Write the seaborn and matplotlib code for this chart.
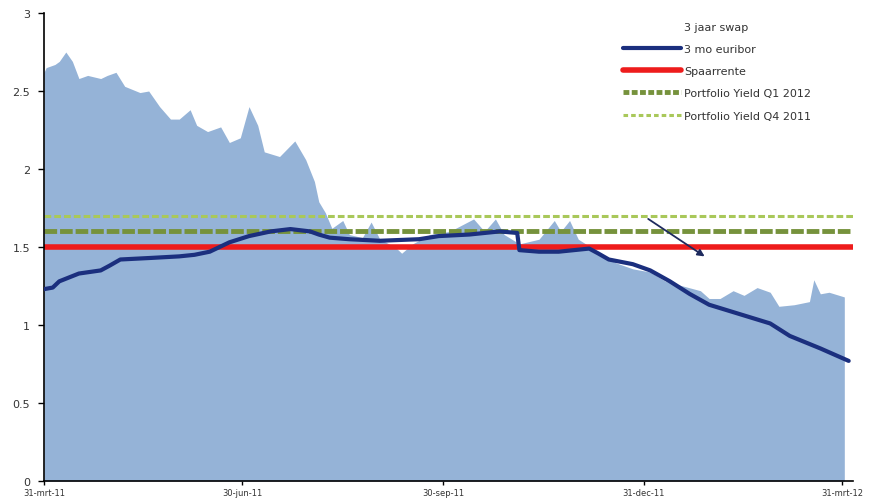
import pandas as pd
import numpy as np
import matplotlib
matplotlib.use("Agg")
import matplotlib.pyplot as plt
from matplotlib.patches import Patch
from matplotlib.lines import Line2D
import seaborn as sns

# 3 jaar swap (area)
swap_dates = [
    "2011-03-31", "2011-04-01", "2011-04-05", "2011-04-07", "2011-04-10", "2011-04-13",
    "2011-04-16", "2011-04-20", "2011-04-26", "2011-04-29", "2011-05-03", "2011-05-07",
    "2011-05-14", "2011-05-18", "2011-05-23", "2011-05-28", "2011-06-01", "2011-06-06",
    "2011-06-09", "2011-06-14", "2011-06-20", "2011-06-24", "2011-06-29", "2011-07-03",
    "2011-07-07", "2011-07-10", "2011-07-17", "2011-07-24", "2011-07-29", "2011-08-02",
    "2011-08-04", "2011-08-07", "2011-08-10", "2011-08-15", "2011-08-18", "2011-08-24",
    "2011-08-28", "2011-09-01", "2011-09-08", "2011-09-11", "2011-09-16", "2011-09-24",
    "2011-10-03", "2011-10-14", "2011-10-19", "2011-10-24", "2011-10-28", "2011-11-04",
    "2011-11-13", "2011-11-20", "2011-11-23", "2011-11-27", "2011-12-01", "2011-12-10",
    "2011-12-18", "2011-12-26", "2012-01-03", "2012-01-10", "2012-01-18", "2012-01-26",
    "2012-01-30", "2012-02-04", "2012-02-10", "2012-02-15", "2012-02-21", "2012-02-27",
    "2012-03-02", "2012-03-09", "2012-03-16", "2012-03-18", "2012-03-21", "2012-03-25",
    "2012-04-01",
]
swap_values = [
    2.62, 2.65, 2.67, 2.69, 2.75, 2.69,
    2.58, 2.60, 2.58, 2.60, 2.62, 2.53,
    2.49, 2.50, 2.40, 2.32, 2.32, 2.38,
    2.28, 2.24, 2.27, 2.17, 2.20, 2.40,
    2.28, 2.11, 2.08, 2.18, 2.06, 1.92,
    1.79, 1.72, 1.62, 1.67, 1.58, 1.56,
    1.66, 1.55, 1.50, 1.46, 1.52, 1.58,
    1.60, 1.68, 1.60, 1.68, 1.58, 1.52,
    1.55, 1.67, 1.60, 1.67, 1.55, 1.47,
    1.40, 1.36, 1.34, 1.28, 1.25, 1.22,
    1.17, 1.17, 1.22, 1.19, 1.24, 1.21,
    1.12, 1.13, 1.15, 1.29, 1.20, 1.21,
    1.18,
]

# 3 mo euribor
euribor_dates = [
    "2011-03-31", "2011-04-04", "2011-04-07", "2011-04-16", "2011-04-26", "2011-04-30",
    "2011-05-05", "2011-05-19", "2011-06-01", "2011-06-08", "2011-06-15", "2011-06-24",
    "2011-07-03", "2011-07-13", "2011-07-22", "2011-07-31", "2011-08-04", "2011-08-09",
    "2011-08-18", "2011-09-01", "2011-09-19", "2011-09-28", "2011-10-12", "2011-10-26",
    "2011-11-03", "2011-11-04", "2011-11-13", "2011-11-22", "2011-12-06", "2011-12-10",
    "2011-12-15", "2011-12-26", "2012-01-03", "2012-01-12", "2012-01-21", "2012-01-30",
    "2012-02-13", "2012-02-27", "2012-03-07", "2012-03-21", "2012-04-03",
]
euribor_values = [
    1.23, 1.24, 1.28, 1.33, 1.35, 1.38,
    1.42, 1.43, 1.44, 1.45, 1.47, 1.53,
    1.57, 1.60, 1.615, 1.60, 1.58, 1.56,
    1.55, 1.54, 1.55, 1.57, 1.58, 1.60,
    1.59, 1.48, 1.47, 1.47, 1.49, 1.46,
    1.42, 1.39, 1.35, 1.28, 1.20, 1.13,
    1.07, 1.01, 0.93, 0.85, 0.77,
]

# flat levels
spaarrente = 1.5
yield_q1_2012 = 1.6
yield_q4_2011 = 1.7

labels = ["3 jaar swap", "3 mo euribor", "Spaarrente",
          "Portfolio Yield Q1 2012", "Portfolio Yield Q4 2011"]

x_tick_dates = ["2011-03-31", "2011-06-30", "2011-09-30", "2011-12-31", "2012-03-31"]
x_tick_labels = ["31-mrt-11", "30-jun-11", "30-sep-11", "31-dec-11", "31-mrt-12"]
y_ticks = [0, 0.5, 1, 1.5, 2, 2.5, 3]
y_tick_labels = ["0", "0.5", "1", "1.5", "2", "2.5", "3"]

swap = pd.DataFrame({"date": pd.to_datetime(swap_dates), "value": swap_values})
euribor = pd.DataFrame({"date": pd.to_datetime(euribor_dates), "value": euribor_values})

sns.set_style("white")
plt.rcParams["font.family"] = ["DejaVu Sans"]

fig = plt.figure(figsize=(8.75, 5.02), dpi=100)
ax = fig.add_axes([0.0503, 0.0398, 0.9246, 0.9323])

c_area = "#95B3D7"
c_euribor = "#1B2F7E"
c_red = "#EE1C1C"
c_q1 = "#76923C"
c_q4 = "#A9C85A"

ax.fill_between(swap["date"], 0, swap["value"], color=c_area, linewidth=0, zorder=1)

ax.axhline(yield_q4_2011, color=c_q4, lw=2.2, ls=(0, (2.2, 1.0)), zorder=2)
ax.axhline(yield_q1_2012, color=c_q1, lw=3.5, ls=(0, (2.6, 0.6)), zorder=2)
ax.axhline(spaarrente, color=c_red, lw=4, zorder=2)

sns.lineplot(data=euribor, x="date", y="value", color=c_euribor, lw=3, ax=ax, zorder=3)

ax.annotate("", xy=(pd.Timestamp("2012-01-29"), 1.43),
            xytext=(pd.Timestamp("2012-01-01"), 1.69),
            arrowprops=dict(arrowstyle="-|>", color="#1E2A5E", lw=1.3,
                            mutation_scale=10), zorder=4)

ax.set_xlim(pd.Timestamp("2011-03-31"), pd.Timestamp("2012-04-05"))
ax.set_ylim(0, 3)
ax.set_xticks(pd.to_datetime(x_tick_dates))
ax.set_xticklabels(x_tick_labels, fontsize=6, color="#333333")
ax.set_yticks(y_ticks)
ax.set_yticklabels(y_tick_labels, fontsize=8, color="#333333")
ax.set_xlabel("")
ax.set_ylabel("")

sns.despine(ax=ax)
for s in ["left", "bottom"]:
    ax.spines[s].set_color("black")
    ax.spines[s].set_linewidth(1.2)
ax.tick_params(axis="y", which="both", left=True, length=4, width=1, color="black", pad=6)
ax.tick_params(axis="x", which="both", bottom=True, length=3, width=1, color="black", pad=2)

handles = [
    Patch(facecolor="none", edgecolor="none"),
    Line2D([], [], color=c_euribor, lw=3),
    Line2D([], [], color=c_red, lw=4),
    Line2D([], [], color=c_q1, lw=3.5, ls=(0, (1.2, 0.5))),
    Line2D([], [], color=c_q4, lw=2.2, ls=(0, (1.5, 1.0))),
]
leg = ax.legend(handles, labels, loc="upper left", bbox_to_anchor=(0.706, 0.966),
                bbox_transform=fig.transFigure, frameon=False, fontsize=8,
                handlelength=5.2, handletextpad=0.3, labelspacing=1.1, borderpad=0)
for t in leg.get_texts():
    t.set_color("#333333")

fig.savefig("out.png", dpi=100)
